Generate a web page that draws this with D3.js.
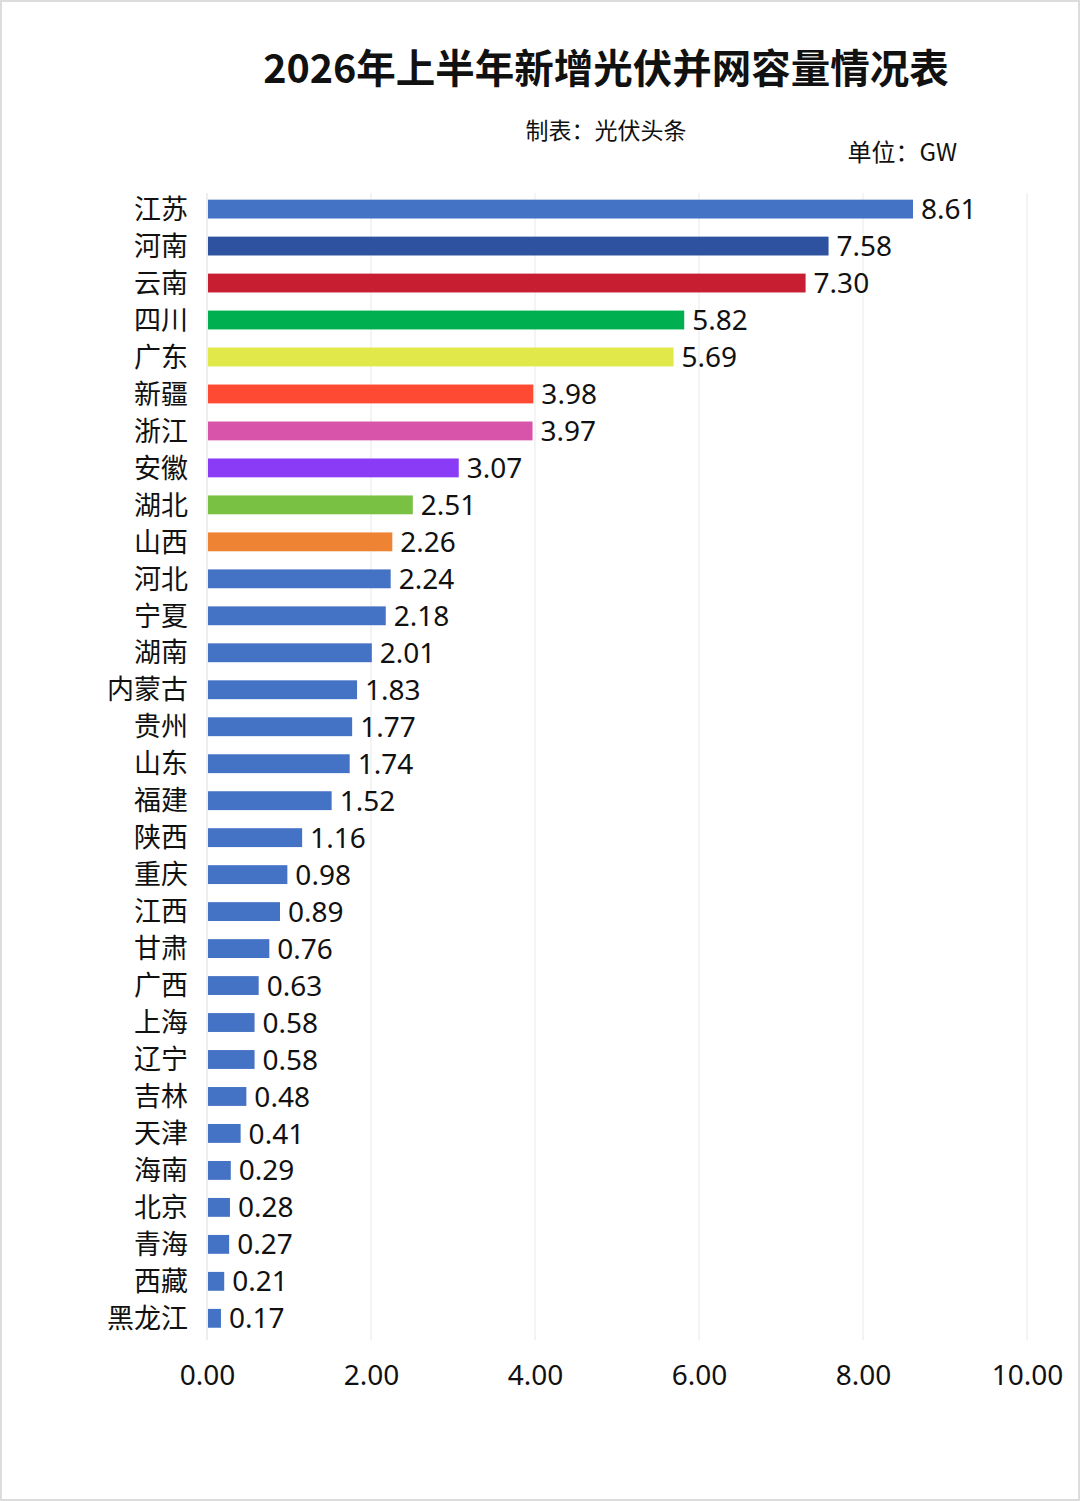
<!DOCTYPE html>
<html><head><meta charset="utf-8">
<script src="https://cdn.jsdelivr.net/npm/d3@7"></script>
<style>
html,body{margin:0;padding:0;background:#fff;}
svg{display:block;font-family:"Noto Sans CJK SC","Noto Sans",sans-serif;}
</style></head>
<body>
<svg id="chart" width="1080" height="1501"></svg>
<script>
const provinces = ["江苏","河南","云南","四川","广东","新疆","浙江","安徽","湖北","山西","河北","宁夏","湖南","内蒙古","贵州","山东","福建","陕西","重庆","江西","甘肃","广西","上海","辽宁","吉林","天津","海南","北京","青海","西藏","黑龙江"];
const capacity = [8.61,7.58,7.30,5.82,5.69,3.98,3.97,3.07,2.51,2.26,2.24,2.18,2.01,1.83,1.77,1.74,1.52,1.16,0.98,0.89,0.76,0.63,0.58,0.58,0.48,0.41,0.29,0.28,0.27,0.21,0.17];
const barColors = ["#4472C4","#2F52A0","#C81E32","#00B050","#E1E84A","#FF4A33","#D854AB","#8A3BF5","#78C142","#EE8433"];
const defaultColor = "#4472C4";
const xTicks = [0,2,4,6,8,10];
const titleText = "2026年上半年新增光伏并网容量情况表";
const sourceText = "制表：光伏头条";
const unitText = "单位：GW";

const svg = d3.select("#chart");
svg.append("rect").attr("x",1).attr("y",1).attr("width",1078).attr("height",1499)
  .attr("fill","#fff").attr("stroke","#dcdcdc").attr("stroke-width",2);

const x = d3.scaleLinear().domain([0,10]).range([207,1027]);
const y = d3.scaleBand().domain(provinces).range([190.6,1336.8]).paddingInner(0.49).paddingOuter(0.245);

// gridlines
svg.append("g").selectAll("line").data(xTicks).join("line")
  .attr("x1",d=>x(d)).attr("x2",d=>x(d)).attr("y1",193).attr("y2",1340)
  .attr("stroke",d=>d===0?"#e2e2e2":"#ececec").attr("stroke-width",1.2);

// bars
svg.append("g").selectAll("rect").data(provinces).join("rect")
  .attr("x",x(0)+1).attr("y",d=>y(d))
  .attr("width",(d,i)=>x(capacity[i])-x(0)-1)
  .attr("height",y.bandwidth())
  .attr("fill",(d,i)=>i<barColors.length?barColors[i]:defaultColor);

// value labels
svg.append("g").selectAll("text").data(provinces).join("text")
  .attr("x",(d,i)=>x(capacity[i])+8).attr("y",d=>y(d)+y.bandwidth()/2)
  .attr("dy","0.36em").attr("font-size",28).attr("fill","#111")
  .attr("font-family","'Noto Sans',sans-serif")
  .text((d,i)=>capacity[i].toFixed(2));

// category labels
svg.append("g").selectAll("text").data(provinces).join("text")
  .attr("x",188).attr("y",d=>y(d)+y.bandwidth()/2)
  .attr("dy","0.36em").attr("text-anchor","end").attr("font-size",27).attr("fill","#111")
  .text(d=>d);

// x axis tick labels
const axis = svg.append("g").attr("transform","translate(0,1374)")
  .call(d3.axisBottom(x).tickValues(xTicks).tickFormat(d3.format(".2f")).tickSize(0).tickPadding(0));
axis.select(".domain").remove();
axis.selectAll("text").attr("font-size",28).attr("fill","#111")
  .attr("font-family","'Noto Sans',sans-serif").attr("dominant-baseline","central").attr("y",0).attr("dy",0);

// title
svg.append("text").attr("x",606).attr("y",83).attr("text-anchor","middle")
  .attr("font-size",39.5).attr("font-weight","bold").attr("fill","#111").text(titleText);
svg.append("text").attr("x",606).attr("y",139).attr("text-anchor","middle")
  .attr("font-size",23).attr("fill","#111").text(sourceText);
svg.append("text").attr("x",957).attr("y",161).attr("text-anchor","end")
  .attr("font-size",24).attr("fill","#111").text(unitText);
</script>
</body></html>
